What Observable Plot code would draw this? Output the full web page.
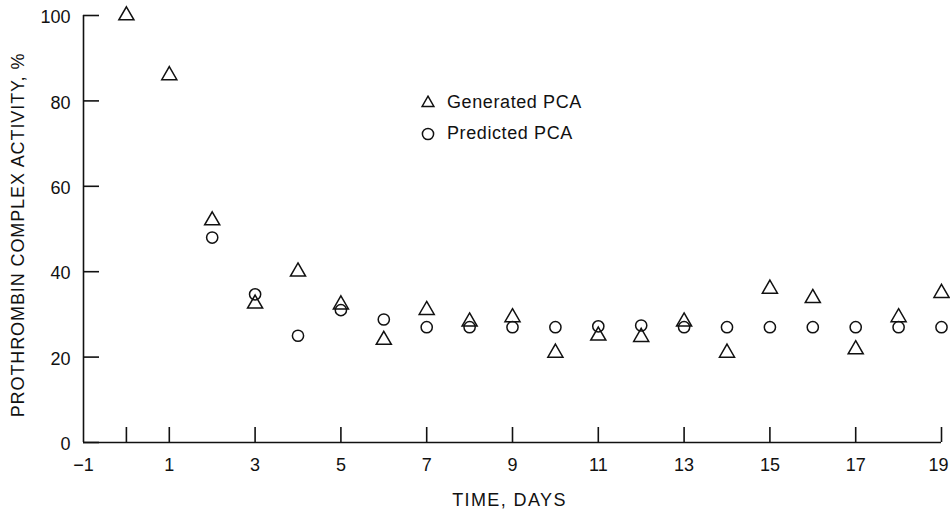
<!DOCTYPE html>
<html><head><meta charset="utf-8">
<script src="https://cdn.jsdelivr.net/npm/d3@7"></script>
<script src="https://cdn.jsdelivr.net/npm/@observablehq/plot@0.6"></script>
<style>
body{margin:0;background:#fff;font-family:"Liberation Sans",Arial,sans-serif;}
#wrap{position:relative;width:950px;height:512px;}
#legend{position:absolute;left:420px;top:87px;font-size:18px;color:#111;letter-spacing:0.6px;}
.row{display:flex;align-items:center;height:31px;}
.row svg{margin-right:11px;}
g.ytitle text{letter-spacing:0.9px;}
g.xtitle text{letter-spacing:1.4px;}
</style></head><body>
<div id="wrap"><div id="legend"></div></div>
<script>
const days = [0,1,2,3,4,5,6,7,8,9,10,11,12,13,14,15,16,17,18,19];
const generated = [100,86,52,32.5,40,32.3,24,31,28.3,29.3,21,25,24.7,28.3,21,36,33.8,21.8,29.3,35];
const predicted = [null,null,48,34.7,25,31,28.8,27,27,27,27,27.2,27.4,27,27,27,27,27,27,27];
const seriesNames = ["Generated PCA","Predicted PCA"];
const seriesSymbols = ["triangle","circle"];
const xTickMarks = [0,1,3,5,7,9,11,13,15,17,19];
const xTickLabels = [-1,1,3,5,7,9,11,13,15,17];
const xLastLabel = [19];
const yTicks = [0,20,40,60,80,100];
const xTitle = "TIME, DAYS";
const yTitle = "PROTHROMBIN COMPLEX ACTIVITY, %";

const rows = [];
days.forEach((d,i)=>{
  if (generated[i]!=null) rows.push({day:d, value:generated[i], series:seriesNames[0]});
  if (predicted[i]!=null) rows.push({day:d, value:predicted[i], series:seriesNames[1]});
});

const W=950,H=512,mL=83,mR=9,mT=15,mB=70;
const ink="#111";
const fmt = d=>d<0?"\u2212"+Math.abs(d):String(d);
const chart = Plot.plot({
  width:W,height:H,marginLeft:mL,marginRight:mR,marginTop:mT,marginBottom:mB,
  x:{domain:[-1,19]},
  y:{domain:[0,100]},
  symbol:{domain:seriesNames, range:seriesSymbols},
  style:{fontFamily:'"Liberation Sans",Arial,sans-serif',fontSize:"18px",color:ink,background:"white"},
  marks:[
    Plot.ruleX([-1],{stroke:ink,strokeWidth:1.6}),
    Plot.ruleY([0],{stroke:ink,strokeWidth:1.6}),
    Plot.tickY(yTicks,{y:d=>d,insetRight:W-mL-mR-16,stroke:ink,strokeWidth:1.6}),
    Plot.tickX(xTickMarks,{x:d=>d,insetTop:H-mT-mB-15,stroke:ink,strokeWidth:1.6}),
    Plot.axisY({ticks:yTicks,tickSize:0,tickPadding:13,dy:2,tickFormat:fmt,label:null}),
    Plot.axisX({ticks:xTickLabels,tickSize:0,tickPadding:16,tickFormat:fmt,label:null}),
    Plot.axisX({ticks:xLastLabel,tickSize:0,tickPadding:16,dx:-3,tickFormat:fmt,label:null}),
    Plot.text([yTitle],{text:d=>d,frameAnchor:"left",rotate:-90,dx:-65,dy:6,lineAnchor:"middle",textAnchor:"middle",fontSize:18,fill:ink,className:"ytitle"}),
    Plot.text([xTitle],{text:d=>d,frameAnchor:"bottom",dx:-3,dy:58,lineAnchor:"middle",textAnchor:"middle",fontSize:18,fill:ink,className:"xtitle"}),
    Plot.dot(rows,{x:"day",y:"value",symbol:"series",r:5.6,fill:"none",stroke:ink,strokeWidth:1.5})
  ]
});
document.getElementById("wrap").prepend(chart);

const legend=document.getElementById("legend");
seriesNames.forEach((name,i)=>{
  const row=document.createElement("div");row.className="row";
  const s=d3.create("svg").attr("width",16).attr("height",16);
  const sym=seriesSymbols[i]==="triangle"?d3.symbolTriangle2:d3.symbolCircle;
  s.append("path").attr("transform","translate(8,8)")
    .attr("d",d3.symbol(sym,Math.PI*5.6*5.6)())
    .attr("fill","none").attr("stroke",ink).attr("stroke-width",1.5);
  row.appendChild(s.node());
  const t=document.createElement("span");t.textContent=name;row.appendChild(t);
  legend.appendChild(row);
});
</script>
</body></html>
